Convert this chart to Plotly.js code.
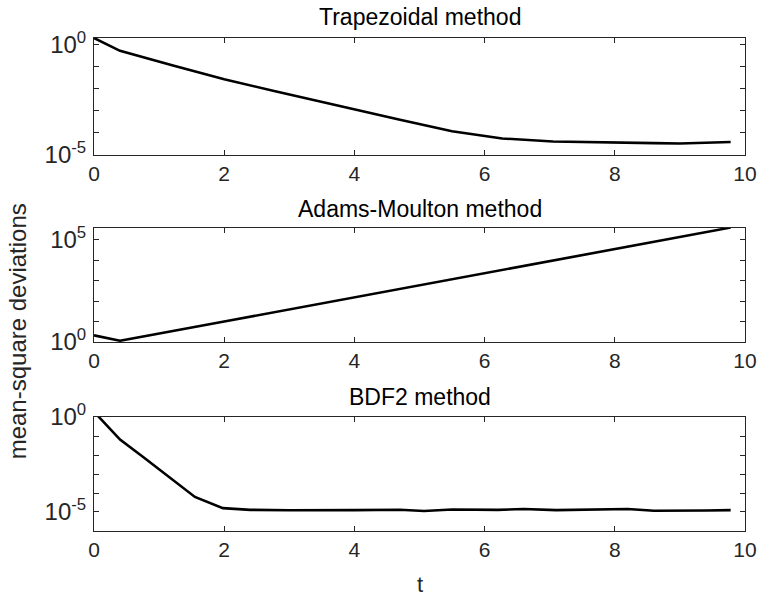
<!DOCTYPE html>
<html>
<head>
<meta charset="utf-8">
<script src="https://cdn.plot.ly/plotly-3.0.1.min.js"></script>
<style>html,body{margin:0;padding:0;background:#fff}#chart{width:762px;height:599px}</style>
</head>
<body>
<div id="chart"></div>
<script>
// Trapezoidal method
const tTrap = [0, 0.4, 1.2, 2.0, 2.75, 3.5, 4.3, 4.7, 5.5, 6.27, 7.05, 7.8, 8.6, 9.0, 9.78];
const msdTrap = [1.95, 0.51, 0.112, 0.026, 7.9e-3, 2.4e-3, 6.8e-4, 3.8e-4, 1.15e-4, 5.4e-5, 3.9e-5, 3.5e-5, 3.3e-5, 3.2e-5, 3.7e-5];
// Adams-Moulton method
const tAM = [0, 0.4, 2.0, 4.0, 5.5, 6.0, 7.4, 8.0, 9.78];
const msdAM = [2.1, 1.15, 10, 151, 1150, 2400, 1.58e4, 3.6e4, 3.9e5];
// BDF2 method
const tBDF = [0, 0.4, 0.76, 1.17, 1.55, 1.98, 2.4, 3.0, 3.5, 4.0, 4.7, 5.07, 5.5, 6.2, 6.6, 7.1, 8.2, 8.6, 9.4, 9.78];
const msdBDF = [1.9, 0.065, 7.6e-3, 6.2e-4, 6.2e-5, 1.6e-5, 1.3e-5, 1.23e-5, 1.2e-5, 1.26e-5, 1.32e-5, 1.12e-5, 1.35e-5, 1.29e-5, 1.45e-5, 1.26e-5, 1.45e-5, 1.17e-5, 1.2e-5, 1.26e-5];

const titles = ['Trapezoidal method', 'Adams-Moulton method', 'BDF2 method'];
const xTicks = [0, 2, 4, 6, 8, 10];
const yTicks1 = [1e-5, 1e-4, 1e-3, 1e-2, 1e-1, 1];
const yText1 = ['10<sup>-5</sup>', ' ', ' ', ' ', ' ', '10<sup>0</sup>'];
const yTicks2 = [1, 10, 100, 1e3, 1e4, 1e5];
const yText2 = ['10<sup>0</sup>', ' ', ' ', ' ', ' ', '10<sup>5</sup>'];
const yTicks3 = [1e-6, 1e-5, 1e-4, 1e-3, 1e-2, 1e-1, 1];
const yText3 = [' ', '10<sup>-5</sup>', ' ', ' ', ' ', ' ', '10<sup>0</sup>'];

const FONT = 'Liberation Sans, Arial, Helvetica, sans-serif';
const AX = '#262626';
const lineStyle = {color: '#000', width: 2.6};

const traces = [
  {x: tTrap, y: msdTrap, xaxis: 'x', yaxis: 'y', mode: 'lines', line: lineStyle},
  {x: tAM, y: msdAM, xaxis: 'x2', yaxis: 'y2', mode: 'lines', line: lineStyle},
  {x: tBDF, y: msdBDF, xaxis: 'x3', yaxis: 'y3', mode: 'lines', line: lineStyle}
];

function xax(anchor) {
  return {anchor: anchor, range: [0, 10], tickvals: xTicks, ticktext: xTicks.map(String),
    showline: true, mirror: 'ticks', linecolor: AX, linewidth: 1, ticks: 'inside', ticklen: 5,
    tickcolor: AX, showgrid: false, zeroline: false, tickfont: {family: FONT, size: 21, color: AX}};
}
function yax(anchor, domain, range, vals, text) {
  return {anchor: anchor, domain: domain, type: 'log', range: range, tickvals: vals, ticktext: text,
    showline: true, mirror: 'ticks', linecolor: AX, linewidth: 1, ticks: 'inside', ticklen: 5,
    tickcolor: AX, showgrid: false, zeroline: false, ticklabelstandoff: 2,
    tickfont: {family: FONT, size: 24, color: AX}};
}

const layout = {
  width: 762, height: 599,
  margin: {l: 94, r: 17, t: 38, b: 68},
  paper_bgcolor: '#fff', plot_bgcolor: '#fff',
  showlegend: false,
  xaxis: xax('y'),
  xaxis2: xax('y2'),
  xaxis3: xax('y3'),
  yaxis: yax('x', [0.7635, 1], [-5, 0.29], yTicks1, yText1),
  yaxis2: yax('x2', [0.3834, 0.6146], [0, 5.57], yTicks2, yText2),
  yaxis3: yax('x3', [0, 0.2312], [-6, 0], yTicks3, yText3),
  annotations: [
    {text: titles[0], xref: 'x domain', yref: 'y domain', x: 0.5, y: 1, yanchor: 'bottom', yshift: 6, showarrow: false, font: {family: FONT, size: 23, color: '#000'}},
    {text: titles[1], xref: 'x2 domain', yref: 'y2 domain', x: 0.5, y: 1, yanchor: 'bottom', yshift: 4, showarrow: false, font: {family: FONT, size: 23, color: '#000'}},
    {text: titles[2], xref: 'x3 domain', yref: 'y3 domain', x: 0.5, y: 1, yanchor: 'bottom', yshift: 5, showarrow: false, font: {family: FONT, size: 23, color: '#000'}},
    {text: 'mean-square deviations', xref: 'paper', yref: 'paper', x: -0.1175, y: 0.404, xanchor: 'center', yanchor: 'middle', textangle: -90, showarrow: false, font: {family: FONT, size: 24, color: AX}},
    {text: 't', xref: 'paper', yref: 'paper', x: 0.5, y: -0.108, xanchor: 'center', yanchor: 'middle', showarrow: false, font: {family: FONT, size: 22, color: AX}}
  ]
};

Plotly.newPlot('chart', traces, layout, {staticPlot: true, displayModeBar: false});
</script>
</body>
</html>
